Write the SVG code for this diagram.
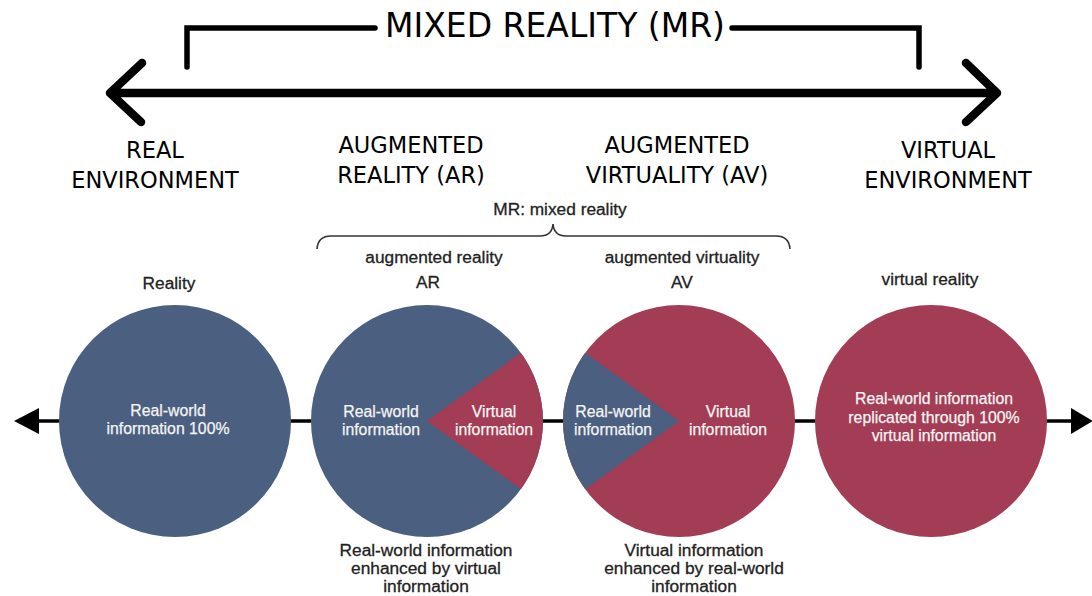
<svg xmlns="http://www.w3.org/2000/svg" width="1092" height="596" viewBox="0 0 1092 596">
<style>
.big{font-family:"DejaVu Sans",sans-serif;fill:#000;text-anchor:middle}
.lab{font-family:"Liberation Sans",Arial,sans-serif;fill:#222;stroke:#222;stroke-width:0.3;text-anchor:middle;font-size:17.3px}
.in{font-family:"Liberation Sans",Arial,sans-serif;fill:#f4f4f4;stroke:#f4f4f4;stroke-width:0.25;text-anchor:middle;font-size:15.8px}
.blue{fill:#4b5f80}
.red{fill:#a23d55}
.thick{fill:none;stroke:#000;stroke-width:8.5;stroke-linecap:round;stroke-linejoin:round}
.brk{fill:none;stroke:#000;stroke-width:5.5;stroke-linecap:round;stroke-linejoin:miter}
</style>
<rect width="1092" height="596" fill="#fff"/>
<g id="connectors">
  <path class="thick" d="M110,93 L997,93 M142,63 L110,93 L141,122 M966,63 L997,93 L966,122"/>
  <path class="brk" d="M187,67 L187,28 L375,28 M732,28 L919,28 L919,67"/>
  <path d="M317,249 Q318,236 331,236 L540,236 Q552,236 553,224 Q554,236 566,236 L776,236 Q789,236 790,249" fill="none" stroke="#333" stroke-width="1.6"/>
  <line x1="36" y1="421" x2="1074" y2="421" stroke="#000" stroke-width="3.5"/>
  <path d="M14,421 L39,408 L39,434 Z" fill="#000"/>
  <path d="M1093,421 L1071,408 L1071,434 Z" fill="#000"/>
</g>
<g id="title">
  <text class="big" x="555" y="37" font-size="33">MIXED REALITY (MR)</text>
</g>
<g id="real-env">
  <text class="big" x="155" y="158" font-size="22.5">REAL</text>
  <text class="big" x="155" y="188" font-size="22.5">ENVIRONMENT</text>
</g>
<g id="ar-label">
  <text class="big" x="411" y="153" font-size="22.5">AUGMENTED</text>
  <text class="big" x="411" y="183" font-size="22.5">REALITY (AR)</text>
</g>
<g id="av-label">
  <text class="big" x="677" y="153" font-size="22.5">AUGMENTED</text>
  <text class="big" x="677" y="183" font-size="22.5">VIRTUALITY (AV)</text>
</g>
<g id="virtual-env">
  <text class="big" x="948" y="158" font-size="22.5">VIRTUAL</text>
  <text class="big" x="948" y="188" font-size="22.5">ENVIRONMENT</text>
</g>
<g id="mr-brace">
  <text class="lab" x="560" y="215">MR: mixed reality</text>
</g>
<g id="reality">
  <text class="lab" x="169" y="289">Reality</text>
  <circle class="blue" cx="175" cy="421" r="116"/>
  <text class="in" x="168" y="416">Real-world</text>
  <text class="in" x="168" y="434">information 100%</text>
</g>
<g id="ar">
  <text class="lab" x="434" y="263">augmented reality</text>
  <text class="lab" x="428" y="288">AR</text>
  <circle class="blue" cx="427" cy="421" r="116"/>
  <path class="red" d="M427,421 L520.8,352.8 A116,116 0 0 1 520.8,489.2 Z"/>
  <text class="in" x="381" y="417">Real-world</text>
  <text class="in" x="381" y="435">information</text>
  <text class="in" x="494" y="417">Virtual</text>
  <text class="in" x="494" y="435">information</text>
  <text class="lab" x="426" y="556">Real-world information</text>
  <text class="lab" x="426" y="574">enhanced by virtual</text>
  <text class="lab" x="426" y="592">information</text>
</g>
<g id="av">
  <text class="lab" x="682" y="263">augmented virtuality</text>
  <text class="lab" x="682" y="288">AV</text>
  <circle class="red" cx="679" cy="421" r="116"/>
  <path class="blue" d="M679,421 L585.2,352.8 A116,116 0 0 0 585.2,489.2 Z"/>
  <text class="in" x="613" y="417">Real-world</text>
  <text class="in" x="613" y="435">information</text>
  <text class="in" x="728" y="417">Virtual</text>
  <text class="in" x="728" y="435">information</text>
  <text class="lab" x="694" y="556">Virtual information</text>
  <text class="lab" x="694" y="574">enhanced by real-world</text>
  <text class="lab" x="694" y="592">information</text>
</g>
<g id="vr">
  <text class="lab" x="930" y="285">virtual reality</text>
  <circle class="red" cx="931" cy="421" r="116"/>
  <text class="in" x="934" y="404">Real-world information</text>
  <text class="in" x="934" y="423">replicated through 100%</text>
  <text class="in" x="934" y="441">virtual information</text>
</g>
</svg>
